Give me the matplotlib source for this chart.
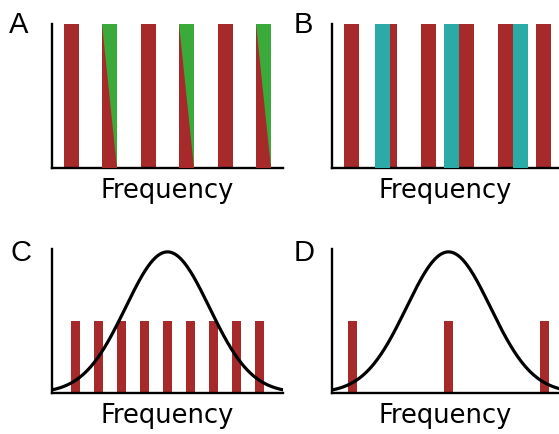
import numpy as np
import matplotlib
matplotlib.use("Agg")
import matplotlib.pyplot as plt

# harmonic / sample positions (in units of the fundamental)
a_red = [1, 2, 3, 4, 5, 6]
a_green = [2, 4, 6]
b_red = [1, 2, 3, 4, 5, 6]
b_teal = [1.8, 3.6, 5.4]
c_samples = [1, 2, 3, 4, 5, 6, 7, 8, 9]
d_samples = [1, 5, 9]

c_center, c_sigma = 5, 1.82
d_center, d_sigma = 5, 1.75
peak = 0.98
sample_height = 0.5

red = "#a62a2a"
green = "#3aaa3a"
teal = "#2aaba8"

fig = plt.figure(figsize=(5.59, 4.34), dpi=100)

H = 144 / 434
axA = fig.add_axes([52 / 559, 266 / 434, 231 / 559, H])
axB = fig.add_axes([332 / 559, 266 / 434, 227 / 559, H])
axC = fig.add_axes([52 / 559, 41 / 434, 231 / 559, H])
axD = fig.add_axes([332 / 559, 41 / 434, 227 / 559, H])

for ax in (axA, axB, axC, axD):
    for s in ("top", "right"):
        ax.spines[s].set_visible(False)
    for s in ("left", "bottom"):
        ax.spines[s].set_linewidth(1.7)
        ax.spines[s].set_color("black")
    ax.set_xticks([])
    ax.set_yticks([])
    ax.set_ylim(0, 1)
    ax.set_xlabel("Frequency", fontsize=18.5, labelpad=7, family="DejaVu Sans")

# A
w = 0.39
axA.set_xlim(0.494, 6.494)
axA.bar(a_red, 1, width=w, color=red, linewidth=0)
axA.bar(a_green, 1, width=w, color=green, linewidth=0, zorder=3)
for x in a_green:
    axA.fill([x - w / 2, x - w / 2, x + w / 2], [1, 0, 0], color=red,
             linewidth=0, zorder=4)

# B
axB.set_xlim(0.494, 0.494 + 227 / 38.5)
axB.bar(b_red, 1, width=w, color=red, linewidth=0)
axB.bar(b_teal, 1, width=w, color=teal, linewidth=0, zorder=3)

# C
axC.set_xlim(-0.02, 10.02)
axC.bar(c_samples, sample_height, width=0.39, color=red, linewidth=0)
xc = np.linspace(-0.02, 10.02, 400)
axC.plot(xc, peak * np.exp(-(xc - c_center) ** 2 / (2 * c_sigma ** 2)),
         color="black", lw=2.3, zorder=4)

# D
axD.set_xlim(0.146, 0.146 + 227 / 24)
axD.bar(d_samples, sample_height, width=9 / 24, color=red, linewidth=0)
xd = np.linspace(0.146, 0.146 + 227 / 24, 400)
axD.plot(xd, peak * np.exp(-(xd - d_center) ** 2 / (2 * d_sigma ** 2)),
         color="black", lw=2.3, zorder=4)

# panel letters
for lab, x, y in (("A", 9, 11), ("B", 294, 11), ("C", 10, 239), ("D", 294, 239)):
    fig.text(x / 559, 1 - y / 434, lab, fontsize=21, family="Liberation Sans",
             ha="left", va="top")

fig.savefig("out.png", dpi=100)
